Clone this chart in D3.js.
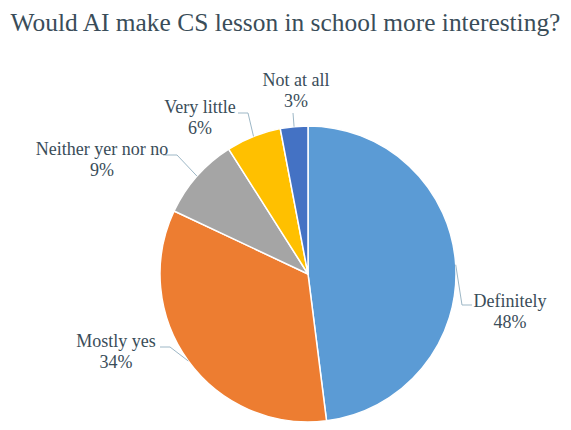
<!DOCTYPE html>
<html>
<head>
<meta charset="utf-8">
<script src="https://cdn.jsdelivr.net/npm/d3@7"></script>
<style>
  html, body { margin: 0; padding: 0; background: #ffffff; }
  svg { display: block; }
  text { font-family: "Liberation Serif", "Tinos", "Times New Roman", Times, "DejaVu Serif", serif; }
</style>
</head>
<body>
<svg id="chart" width="571" height="430"></svg>
<script>
// Survey answers, in clockwise order from 12 o'clock
const categories = ["Definitely", "Mostly yes", "Neither yer nor no", "Very little", "Not at all"];
const shares = [48, 34, 9, 6, 3];
const colors = ["#5B9BD5", "#ED7D31", "#A5A5A5", "#FFC000", "#4472C4"];
const title = "Would AI make CS lesson in school more interesting?";

// Label placement relative to the pie centre: text anchor and leader-line knees
const labelLayout = [
  { tx: 202,  ty: 33,   knees: [[154, 31], [164, 31]] },
  { tx: -192, ty: 73,   knees: [[-138, 73], [-148, 73]] },
  { tx: -206, ty: -119, knees: [[-131, -119], [-145, -119]] },
  { tx: -108, ty: -161, knees: [[-60, -161], [-70, -161]] },
  { tx: -12,  ty: -188, knees: [[-15, -161]] }
];

const W = 571, H = 430;
const cx = 308, cy = 274, R = 148;
const textColor = "#3a4d59";

const svg = d3.select("#chart");
svg.append("rect").attr("width", W).attr("height", H).attr("fill", "#ffffff");

// Title, sized to span the chart width
const t = svg.append("text")
  .attr("x", W / 2).attr("y", 31)
  .attr("text-anchor", "middle")
  .style("font-size", "100px")
  .attr("fill", textColor)
  .text(title);
const w100 = t.node().getComputedTextLength();
t.style("font-size", (100 * 550 / w100) + "px");

const data = categories.map((c, i) => ({ name: c, value: shares[i], color: colors[i], layout: labelLayout[i] }));

const pie = d3.pie().value(d => d.value).sort(null);
const arc = d3.arc().innerRadius(0).outerRadius(R);
const arcs = pie(data);

const g = svg.append("g").attr("transform", `translate(${cx},${cy})`);

g.selectAll("path.slice")
  .data(arcs)
  .join("path")
  .attr("class", "slice")
  .attr("d", arc)
  .attr("fill", d => d.data.color)
  .attr("stroke", "#ffffff")
  .attr("stroke-width", 1.5)
  .attr("stroke-linejoin", "round");

// Leader lines from the slice edge (at its mid angle) to the label
const line = d3.line();
g.selectAll("path.leader")
  .data(arcs)
  .join("path")
  .attr("class", "leader")
  .attr("d", d => {
    const a = (d.startAngle + d.endAngle) / 2;
    const p = [Math.sin(a) * R, -Math.cos(a) * R];
    return line([p, ...d.data.layout.knees]);
  })
  .attr("fill", "none")
  .attr("stroke", "#9db7c6")
  .attr("stroke-width", 1);

// Category name and percentage labels
const labels = g.selectAll("text.label")
  .data(arcs)
  .join("text")
  .attr("class", "label")
  .attr("text-anchor", "middle")
  .style("font-size", "18px")
  .attr("fill", textColor);

labels.append("tspan")
  .attr("x", d => d.data.layout.tx)
  .attr("y", d => d.data.layout.ty)
  .text(d => d.data.name);

labels.append("tspan")
  .attr("x", d => d.data.layout.tx)
  .attr("y", d => d.data.layout.ty + 21)
  .text(d => d.data.value + "%");
</script>
</body>
</html>
